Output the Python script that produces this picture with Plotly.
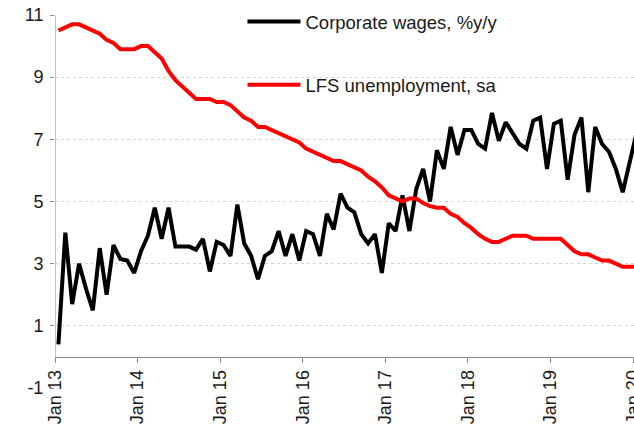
import plotly.graph_objects as go

# Monthly data Jan 2013 .. Jan 2020
months = [f"{m} {y}" for y in range(2013, 2021) for m in
          ["Jan", "Feb", "Mar", "Apr", "May", "Jun", "Jul", "Aug", "Sep", "Oct", "Nov", "Dec"]][:85]

wages = [
    0.4, 4.0, 1.7, 3.0, 2.2, 1.5, 3.5, 2.0, 3.6, 3.15, 3.1, 2.7,      # 2013
    3.4, 3.9, 4.8, 3.8, 4.8, 3.55, 3.55, 3.55, 3.45, 3.8, 2.75, 3.7,  # 2014
    3.6, 3.25, 4.9, 3.65, 3.25, 2.5, 3.25, 3.4, 4.05, 3.25, 3.95, 3.1,  # 2015
    4.05, 3.95, 3.25, 4.6, 4.1, 5.25, 4.8, 4.65, 3.95, 3.65, 3.95, 2.7,  # 2016
    4.3, 4.05, 5.2, 4.05, 5.4, 6.05, 5.0, 6.65, 6.05, 7.4, 6.5, 7.3,    # 2017
    7.3, 6.85, 6.7, 7.85, 6.95, 7.55, 7.2, 6.85, 6.7, 7.6, 7.7, 6.05,   # 2018
    7.5, 7.6, 5.7, 7.15, 7.7, 5.3, 7.4, 6.85, 6.6, 6.05, 5.3, 6.3,     # 2019
    7.2,                                                               # 2020
]

unemployment = [
    10.5, 10.6, 10.7, 10.7, 10.6, 10.5, 10.4, 10.2, 10.1, 9.9, 9.9, 9.9,  # 2013
    10.0, 10.0, 9.8, 9.6, 9.2, 8.9, 8.7, 8.5, 8.3, 8.3, 8.3, 8.2,       # 2014
    8.2, 8.1, 7.9, 7.7, 7.6, 7.4, 7.4, 7.3, 7.2, 7.1, 7.0, 6.9,         # 2015
    6.7, 6.6, 6.5, 6.4, 6.3, 6.3, 6.2, 6.1, 6.0, 5.8, 5.65, 5.45,       # 2016
    5.2, 5.1, 5.0, 5.1, 5.1, 4.95, 4.85, 4.8, 4.8, 4.6, 4.5, 4.3,       # 2017
    4.15, 3.95, 3.8, 3.7, 3.7, 3.8, 3.9, 3.9, 3.9, 3.8, 3.8, 3.8,      # 2018
    3.8, 3.8, 3.6, 3.4, 3.3, 3.3, 3.2, 3.1, 3.1, 3.0, 2.9, 2.9,        # 2019
    2.9,                                                               # 2020
]

year_labels = ["Jan 13", "Jan 14", "Jan 15", "Jan 16", "Jan 17", "Jan 18", "Jan 19", "Jan 20"]
y_ticks = [-1, 1, 3, 5, 7, 9, 11]
y_tick_text = ["-1", "1", "3", "5", "7", "9", "11"]

idx = list(range(len(months)))
tick_pos = [12 * k - 0.5 for k in range(len(year_labels))]

FONT = "Liberation Sans, Arial, sans-serif"
AX = "#8c8c8c"
TXT = "#1a1a1a"

fig = go.Figure()
fig.add_trace(go.Scatter(
    x=idx, y=wages, mode="lines", name="Corporate wages, %y/y",
    line=dict(color="#000000", width=4), customdata=months,
    legend="legend", showlegend=True))
fig.add_trace(go.Scatter(
    x=idx, y=unemployment, mode="lines", name="LFS unemployment, sa",
    line=dict(color="#ff0000", width=4), customdata=months,
    legend="legend2", showlegend=True))

fig.update_layout(
    template="none",
    width=634, height=424,
    showlegend=True,
    margin=dict(l=55, r=0, t=15, b=36),
    paper_bgcolor="white", plot_bgcolor="white",
    font=dict(family=FONT, size=18, color=TXT),
    xaxis=dict(
        range=[-0.5, 83.64], tickvals=tick_pos, ticktext=year_labels,
        tickangle=-90, ticks="outside", ticklen=5, tickcolor=AX, tickwidth=1,
        showline=True, linecolor=AX, linewidth=1, showgrid=False, zeroline=False,
        anchor="free", position=1 / 12, ticklabeloverflow="allow",
        tickfont=dict(size=18, family=FONT, color=TXT),
    ),
    yaxis=dict(
        range=[-1, 11], tickvals=y_ticks, ticktext=y_tick_text,
        ticks="outside", ticklen=4, ticklabelstandoff=3,
        tickcolor=AX, showline=False, zeroline=False,
        showgrid=True, gridcolor="#d4d4d4", griddash="dot", gridwidth=1,
        tickfont=dict(size=18, family=FONT, color=TXT),
    ),
    legend=dict(x=0.3238, y=0.981, xanchor="left", yanchor="middle", itemwidth=53,
                bgcolor="rgba(0,0,0,0)", font=dict(size=18.5, family=FONT, color=TXT)),
    legend2=dict(x=0.3238, y=0.812, xanchor="left", yanchor="middle", itemwidth=53,
                 bgcolor="rgba(0,0,0,0)", font=dict(size=18.5, family=FONT, color=TXT)),
    shapes=[dict(type="line", xref="x", yref="y", x0=-0.5, x1=-0.5, y0=0, y1=11,
                 line=dict(color=AX, width=1), layer="above")],
)

# remove the default page margin so the 634x424 figure fills the window exactly
fig.write_html(
    "out.html",
    config={"displayModeBar": False},
    post_script="document.body.style.margin='0';document.body.style.overflow='hidden';",
)
